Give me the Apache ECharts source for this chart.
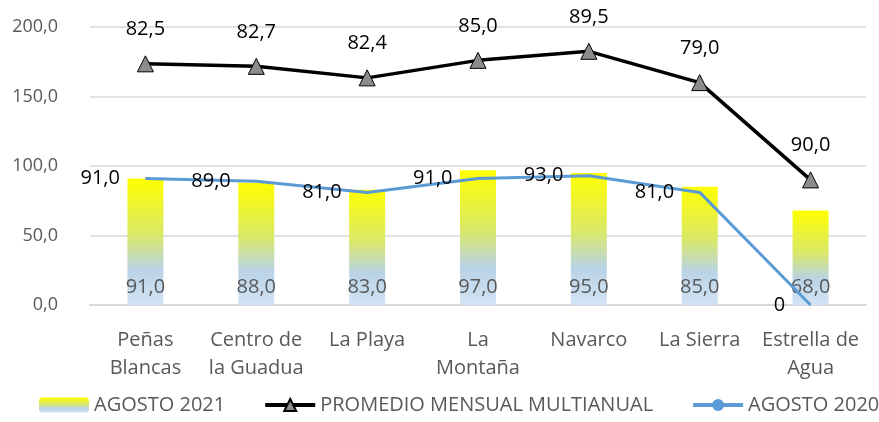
<!DOCTYPE html>
<html>
<head>
<meta charset="utf-8">
<script src="https://cdn.jsdelivr.net/npm/echarts@6/dist/echarts.min.js"></script>
<style>
  html, body { margin: 0; padding: 0; background: #fff; }
  #main { width: 879px; height: 422px; }
</style>
</head>
<body>
<div id="main"></div>
<script>
var categories = ['Peñas\nBlancas', 'Centro de\nla Guadua', 'La Playa', 'La\nMontaña', 'Navarco', 'La Sierra', 'Estrella de\nAgua'];
var agosto2021 = [91.0, 88.0, 83.0, 97.0, 95.0, 85.0, 68.0];
var agosto2020 = [91.0, 89.0, 81.0, 91.0, 93.0, 81.0, 0];
var promedio = [82.5, 82.7, 82.4, 85.0, 89.5, 79.0, 90.0];

var FONT = '"Open Sans", "Liberation Sans", sans-serif';
function coma(v) { return Number(v).toFixed(1).replace('.', ','); }

var myChart = echarts.init(document.getElementById('main'));
var option = {
    animation: false,
    textStyle: { fontFamily: FONT },
    grid: { left: 90, right: 13, top: 27, bottom: 117, containLabel: false },
    legend: {
        left: 34,
        bottom: 2,
        width: 845,
        itemWidth: 50,
        itemHeight: 15,
        itemGap: 38,
        textStyle: { color: '#595959', fontSize: 20, fontFamily: FONT },
        data: [
            { name: 'AGOSTO 2021' },
            { name: 'PROMEDIO MENSUAL MULTIANUAL', lineStyle: { width: 4 } },
            { name: 'AGOSTO 2020', lineStyle: { width: 4 } }
        ]
    },
    xAxis: {
        type: 'category',
        data: categories,
        axisLine: { lineStyle: { color: '#D9D9D9', width: 2 } },
        axisTick: { show: false },
        axisLabel: { color: '#595959', fontSize: 20, lineHeight: 28, margin: 21, interval: 0 }
    },
    yAxis: {
        type: 'value',
        min: 0,
        max: 200,
        interval: 50,
        axisLine: { show: false },
        axisTick: { show: false },
        splitLine: { lineStyle: { color: '#D9D9D9', width: 1.5 } },
        axisLabel: { color: '#595959', fontSize: 18, margin: 32, formatter: coma }
    },
    series: [
        {
            name: 'AGOSTO 2021',
            type: 'bar',
            barWidth: 36,
            data: agosto2021,
            itemStyle: {
                color: new echarts.graphic.LinearGradient(0, 0, 0, 1, [
                    { offset: 0, color: '#FFFF00' },
                    { offset: 0.45, color: '#D9E86A' },
                    { offset: 0.72, color: '#B9D3E6' },
                    { offset: 1, color: '#D3E3F5' }
                ])
            },
            label: {
                show: true,
                position: 'insideBottom',
                distance: 8,
                color: '#595959',
                fontSize: 20,
                formatter: function (p) { return coma(p.value); }
            },
            z: 1
        },
        {
            name: 'AGOSTO 2020',
            type: 'line',
            stack: 'total',
            data: agosto2020,
            symbol: 'circle',
            symbolSize: 1,
            lineStyle: { color: '#5B9BD5', width: 3 },
            itemStyle: { color: '#5B9BD5' },
            label: {
                show: true,
                position: 'left',
                distance: 25,
                color: '#000',
                fontSize: 20,
                formatter: function (p) { return p.value === 0 ? '0' : coma(p.value); }
            },
            z: 3
        },
        {
            name: 'PROMEDIO MENSUAL MULTIANUAL',
            type: 'line',
            stack: 'total',
            data: promedio,
            symbol: 'triangle',
            symbolSize: 16,
            lineStyle: { color: '#000', width: 3.5 },
            itemStyle: { color: '#8C8C8C', borderColor: '#000', borderWidth: 1 },
            label: {
                show: true,
                position: 'top',
                distance: 16,
                color: '#000',
                fontSize: 20,
                formatter: function (p) { return coma(p.value); }
            },
            z: 4
        }
    ]
};
myChart.setOption(option);
</script>
</body>
</html>
